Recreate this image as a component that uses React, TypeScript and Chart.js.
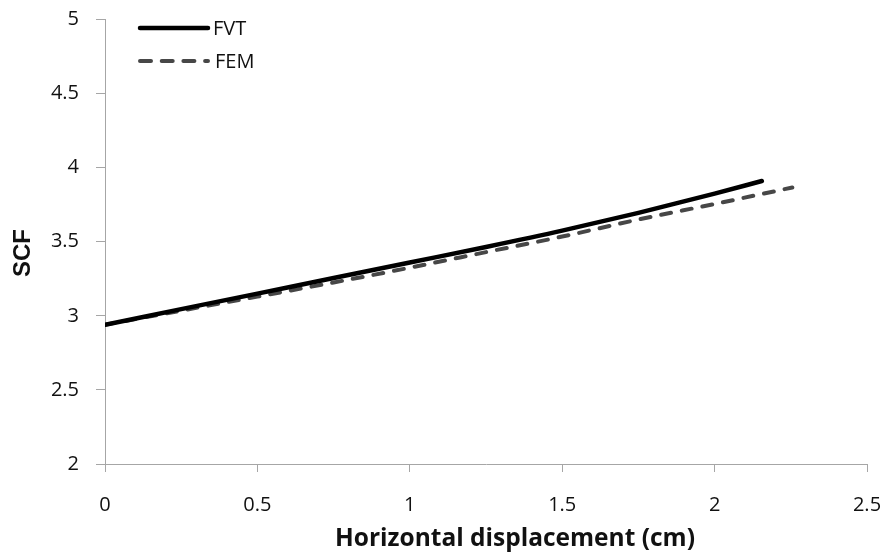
import React, { useEffect, useRef } from "react";
import { Chart, registerables } from "chart.js";

Chart.register(...registerables);

const fvtX = [0, 0.25, 0.5, 0.75, 1.0, 1.25, 1.5, 1.75, 2.0, 2.155];
const fvtY = [2.94, 3.045, 3.15, 3.255, 3.36, 3.465, 3.575, 3.695, 3.825, 3.91];
const femX = [0, 0.25, 0.5, 0.75, 1.0, 1.25, 1.5, 1.75, 2.0, 2.255];
const femY = [2.94, 3.035, 3.13, 3.225, 3.325, 3.43, 3.535, 3.65, 3.755, 3.866];
const seriesNames = ["FVT", "FEM"];
const xTitle = "Horizontal displacement (cm)";
const yTitle = "SCF";

const FONT = "'Open Sans', Lato, sans-serif";

const legendPlugin = {
  id: "insideLegend",
  afterDraw(chart: any) {
    const ctx = chart.ctx;
    const left = chart.chartArea.left;
    const top = chart.chartArea.top;
    chart.data.datasets.forEach((ds: any, i: number) => {
      const y = top + 8.5 + i * 33;
      ctx.save();
      ctx.strokeStyle = ds.borderColor;
      ctx.lineWidth = ds.borderWidth;
      ctx.lineCap = "round";
      ctx.setLineDash(i === 1 ? [11, 10.7] : []);
      ctx.beginPath();
      ctx.moveTo(left + 35, y);
      ctx.lineTo(left + 103, y);
      ctx.stroke();
      ctx.setLineDash([]);
      ctx.fillStyle = "#111";
      ctx.font = `20px ${FONT}`;
      ctx.textBaseline = "middle";
      ctx.textAlign = "left";
      ctx.fillText(ds.label, left + 108 + i * 2, y + 1);
      ctx.restore();
    });
    // axis titles
    const ca = chart.chartArea;
    ctx.save();
    ctx.fillStyle = "#111";
    ctx.textAlign = "center";
    ctx.textBaseline = "middle";
    ctx.font = `bold 24.5px ${FONT}`;
    ctx.fillText(xTitle, ca.left + 410, 539);
    ctx.translate(23, 253);
    ctx.rotate(-Math.PI / 2);
    ctx.font = `bold 24px 'Liberation Sans', Arial, sans-serif`;
    ctx.fillText(yTitle, 0, 0);
    ctx.restore();
  },
};

export default function App() {
  const ref = useRef<HTMLCanvasElement | null>(null);
  useEffect(() => {
    if (!ref.current) return;
    const chart = new Chart(ref.current, {
      type: "scatter",
      data: {
        datasets: [
          {
            label: seriesNames[0],
            data: fvtX.map((x, i) => ({ x, y: fvtY[i] })),
            showLine: true,
            borderColor: "#000000",
            borderWidth: 4.5,
            pointRadius: 0,
            cubicInterpolationMode: "monotone",
            borderCapStyle: "round",
          } as any,
          {
            label: seriesNames[1],
            data: femX.map((x, i) => ({ x, y: femY[i] })),
            showLine: true,
            borderColor: "#474747",
            borderWidth: 4,
            borderDash: [10, 11],
            pointRadius: 0,
            cubicInterpolationMode: "monotone",
            borderCapStyle: "round",
          } as any,
        ],
      },
      options: {
        animation: false,
        responsive: true,
        maintainAspectRatio: false,
        layout: { padding: { left: 0, right: 20, top: 19.5, bottom: 0 } },
        plugins: { legend: { display: false }, tooltip: { enabled: false } },
        scales: {
          x: {
            type: "linear",
            min: 0,
            max: 2.5,
            ticks: {
              stepSize: 0.5,
              padding: 21,
              color: "#111",
              font: { family: FONT, size: 20 },
              callback: (v: any) => String(Math.round(Number(v) * 10) / 10),
            },
            grid: { drawOnChartArea: false, drawTicks: true, tickLength: 8, color: "#a6a6a6" },
            border: { color: "#a6a6a6", width: 1 },
            title: { display: false },
            afterFit(scale: any) {
              scale.height = 92;
              scale.paddingLeft = 0;
              scale.paddingRight = 0;
            },
          },
          y: {
            type: "linear",
            min: 2,
            max: 5,
            ticks: {
              stepSize: 0.5,
              padding: 17,
              color: "#111",
              font: { family: FONT, size: 20 },
              callback: (v: any) => String(Math.round(Number(v) * 10) / 10),
            },
            grid: { drawOnChartArea: false, drawTicks: true, tickLength: 9, color: "#a6a6a6" },
            border: { color: "#a6a6a6", width: 1 },
            title: { display: false },
            afterFit(scale: any) {
              scale.width = 105;
              scale.paddingTop = 0;
              scale.paddingBottom = 0;
            },
          },
        },
      } as any,
      plugins: [legendPlugin],
    });
    return () => chart.destroy();
  }, []);
  return (
    <div style={{ position: "absolute", left: 0, top: 0, width: 887, height: 556, background: "#fff" }}>
      <canvas ref={ref} />
    </div>
  );
}
